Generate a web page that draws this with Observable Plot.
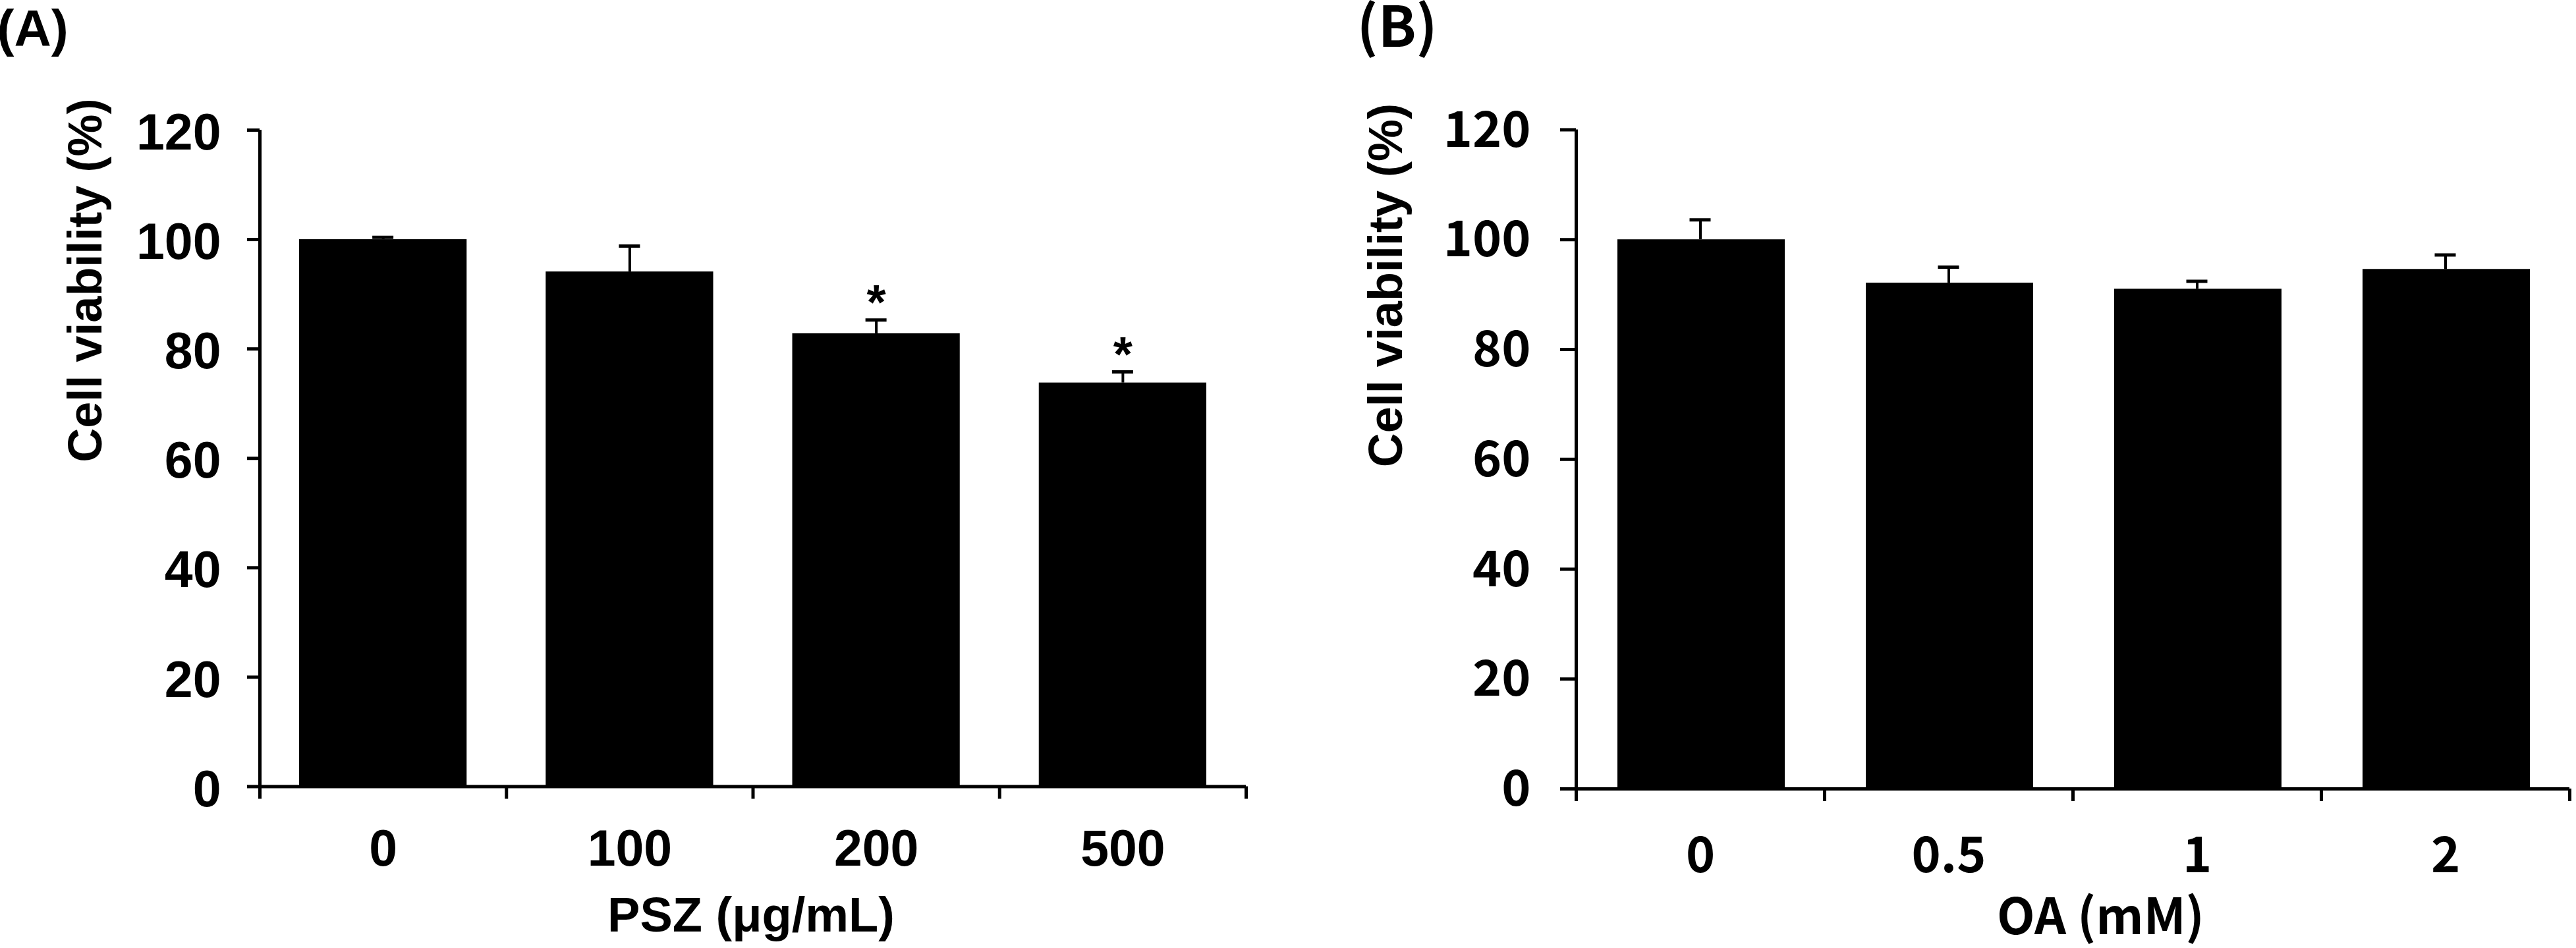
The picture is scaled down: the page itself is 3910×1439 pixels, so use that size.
<!DOCTYPE html>
<html><head><meta charset="utf-8">
<script src="https://cdn.jsdelivr.net/npm/d3@7"></script>
<script src="https://cdn.jsdelivr.net/npm/@observablehq/plot@0.6"></script>
<style>
html,body{margin:0;padding:0;background:#fff;}
#wrap{display:flex;width:3910px;height:1439px;overflow:hidden;}
#wrap svg{display:block;max-width:none;flex:none;}
g[aria-label="y-axis tick"] path, g[aria-label="x-axis tick"] path{stroke-width:5px;}
</style></head><body><div id="wrap"></div>
<script>
// Panel A: PSZ
const pszCats = ["0", "100", "200", "500"];
const pszMean = [100.0, 94.1, 82.8, 73.8];
const pszErr = [0.4, 4.7, 2.5, 2.0];
const pszSig = ["", "", "*", "*"];
// Panel B: OA
const oaCats = ["0", "0.5", "1", "2"];
const oaMean = [100.0, 92.1, 91.0, 94.6];
const oaErr = [3.6, 2.9, 1.4, 2.6];
const oaSig = ["", "", "", ""];
const yTicks = [0, 20, 40, 60, 80, 100, 120];
const yTitle = "Cell viability (%)";

function panel(o) {
  const n = o.cats.length;
  const data = o.cats.map((c, i) => ({i, cat: c, mean: o.mean[i], err: o.err[i], sig: o.sig[i]}));
  return Plot.plot({
    width: 1955, height: 1439,
    marginLeft: o.ml, marginRight: o.mr, marginTop: o.mt, marginBottom: o.mb,
    style: {fontFamily: o.font, fontWeight: "bold", fontSize: o.fs + "px", color: "black", background: "white", maxWidth: "none"},
    x: {domain: [0, n], label: null},
    y: {domain: [0, 120], label: null},
    marks: [
      Plot.rectY(data, {x1: "i", x2: d => d.i + 1, y1: 0, y2: "mean", fill: "black", insetLeft: o.il, insetRight: o.ir}),
      Plot.ruleX(data, {x: d => d.i + 0.5, y1: "mean", y2: d => d.mean + d.err, stroke: "black", strokeWidth: 4}),
      Plot.ruleY(data, {y: d => d.mean + d.err, x1: d => d.i + 0.5, x2: d => d.i + 0.5, insetLeft: -16, insetRight: -16, stroke: "black", strokeWidth: 5}),
      Plot.ruleX([0], {stroke: "black", strokeWidth: 5}),
      Plot.ruleY([0], {stroke: "black", strokeWidth: 5}),
      Plot.axisY({ticks: yTicks, tickSize: o.yts, tickFormat: () => "", strokeWidth: 5, label: null}),
      Plot.axisY({ticks: yTicks, tickSize: 0, tickPadding: o.ytp, dy: o.ydy, fontSize: o.fs, fontWeight: "bold", label: null, ariaLabel: "ylabels"}),
      Plot.axisX({ticks: d3.range(n + 1), tickSize: 19, tickFormat: () => "", strokeWidth: 5, label: null}),
      Plot.axisX({ticks: d3.range(n).map(i => i + 0.5), tickSize: 0, tickPadding: o.xtp, tickFormat: d => o.cats[Math.floor(d)], fontSize: o.fs, fontWeight: "bold", label: null}),
      Plot.text(data.filter(d => d.sig), {x: d => d.i + 0.5, y: d => d.mean + d.err, text: "sig", lineAnchor: "bottom", dy: -2, fontSize: 75, fontFamily: "Liberation Sans", fontWeight: "bold"}),
      Plot.text([o.xTitle], {text: d => d, frameAnchor: "bottom", lineAnchor: "bottom", dx: o.xtdx, dy: o.xtdy, fontSize: o.xtfs, fontWeight: "bold", ariaLabel: "x-title"}),
      Plot.text([yTitle], {text: d => d, frameAnchor: "left", rotate: -90, dx: o.ytdx, dy: o.ytdy, fontSize: 72, fontFamily: "Liberation Sans", fontWeight: "bold"}),
      Plot.text([o.tag], {text: d => d, frameAnchor: "top-left", textAnchor: "start", lineAnchor: "bottom", dx: o.tagdx, dy: o.tagdy, fontSize: o.tagfs, fontWeight: "bold"})
    ]
  });
}

function condense(svg, selector, factor, target) {
  svg.querySelectorAll(selector).forEach(t => {
    const L = t.getComputedTextLength();
    if (L > 0) {
      t.setAttribute("textLength", target ? target : L * factor);
      t.setAttribute("lengthAdjust", "spacingAndGlyphs");
    }
  });
}

const wrap = document.getElementById("wrap");
const A = panel({cats: pszCats, mean: pszMean, err: pszErr, sig: pszSig,
  ml: 394, mr: 64, mt: 197, mb: 245.5, il: 60, ir: 60,
  font: "Liberation Sans", fs: 77, yts: 19, ytp: 59, ydy: 5, xtp: 65,
  xTitle: "PSZ (μg/mL)", xtfs: 74, xtdx: -3, xtdy: 219.5,
  ytdx: -264, ytdy: 6, tag: "(A)", tagfs: 78, tagdx: -399, tagdy: -128});
const B = panel({cats: oaCats, mean: oaMean, err: oaErr, sig: oaSig,
  ml: 437, mr: 10, mt: 196.5, mb: 242, il: 63, ir: 60,
  font: "Noto Sans CJK KR", fs: 75, yts: 24, ytp: 69, ydy: 1.5, xtp: 73,
  xTitle: "OA (mM)", xtfs: 75, xtdx: 42, xtdy: 220,
  ytdx: -288, ytdy: 12, tag: "(B)", tagfs: 85, tagdx: -333, tagdy: -126.5});
wrap.appendChild(A);
wrap.appendChild(B);
condense(A, 'g[aria-label="ylabels"] text', 0.89);
condense(A, 'g[aria-label="x-title"] text', 1, 406);
</script></body></html>
